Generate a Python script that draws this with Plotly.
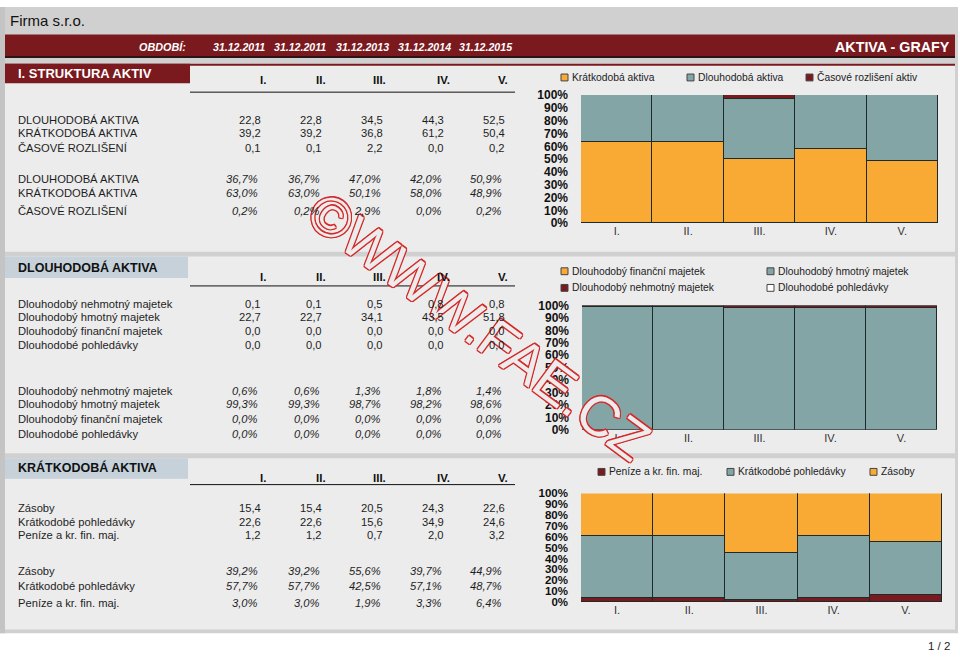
import plotly.graph_objects as go

W, H = 960, 657
FONT = "Liberation Sans, Arial, sans-serif"

# ---------------- data ----------------
periods = ["I.", "II.", "III.", "IV.", "V."]
dates = ["31.12.2011", "31.12.2011", "31.12.2013", "31.12.2014", "31.12.2015"]

s1_labels = ["DLOUHODOBÁ AKTIVA", "KRÁTKODOBÁ AKTIVA", "ČASOVÉ ROZLIŠENÍ"]
s1_dlouhodoba = [22.8, 22.8, 34.5, 44.3, 52.5]
s1_kratkodoba = [39.2, 39.2, 36.8, 61.2, 50.4]
s1_casove = [0.1, 0.1, 2.2, 0.0, 0.2]
s1_dlouhodoba_pct = [36.7, 36.7, 47.0, 42.0, 50.9]
s1_kratkodoba_pct = [63.0, 63.0, 50.1, 58.0, 48.9]
s1_casove_pct = [0.2, 0.2, 2.9, 0.0, 0.2]

s2_labels = ["Dlouhodobý nehmotný majetek", "Dlouhodobý hmotný majetek",
             "Dlouhodobý finanční majetek", "Dlouhodobé pohledávky"]
s2_nehmotny = [0.1, 0.1, 0.5, 0.8, 0.8]
s2_hmotny = [22.7, 22.7, 34.1, 43.5, 51.8]
s2_financni = [0.0, 0.0, 0.0, 0.0, 0.0]
s2_pohledavky = [0.0, 0.0, 0.0, 0.0, 0.0]
s2_nehmotny_pct = [0.6, 0.6, 1.3, 1.8, 1.4]
s2_hmotny_pct = [99.3, 99.3, 98.7, 98.2, 98.6]
s2_financni_pct = [0.0, 0.0, 0.0, 0.0, 0.0]
s2_pohledavky_pct = [0.0, 0.0, 0.0, 0.0, 0.0]

s3_labels = ["Zásoby", "Krátkodobé pohledávky", "Peníze a kr. fin. maj."]
s3_zasoby = [15.4, 15.4, 20.5, 24.3, 22.6]
s3_pohledavky = [22.6, 22.6, 15.6, 34.9, 24.6]
s3_penize = [1.2, 1.2, 0.7, 2.0, 3.2]
s3_zasoby_pct = [39.2, 39.2, 55.6, 39.7, 44.9]
s3_pohledavky_pct = [57.7, 57.7, 42.5, 57.1, 48.7]
s3_penize_pct = [3.0, 3.0, 1.9, 3.3, 6.4]

pct_ticks = list(range(0, 101, 10))

# ---------------- styles ----------------
ORANGE = "#F8AA35"
TEAL = "#84A5A6"
DRED = "#7A1A1E"
WHITE = "#FFFFFF"
EDGE = "#1E2A2A"
PANEL = "#ECECEC"
GRAY = "#D0D0D0"
TXT = "#1E1E1E"
WM = "#D42A2A"

TSIZE = 11.2   # table text
LSIZE = 10.3   # legend text


def px(x):
    return x / W


def py(y):
    return 1 - y / H


shapes = []
annotations = []

# watermark first (so that table texts are drawn over it):
# hollow red outline made from offset copies + panel-coloured fill
WM_X, WM_Y, WM_SIZE, WM_ANGLE = 479, 326, 56, 36.5
for dx, dy in [(-1, -1), (1, -1), (-1, 1), (1, 1), (-1.2, 0), (1.2, 0), (0, -1.2), (0, 1.2)]:
    annotations.append(dict(
        xref="paper", yref="paper", x=px(WM_X + dx), y=py(WM_Y + dy), text="©WWW.FAE.CZ",
        showarrow=False, textangle=WM_ANGLE, xanchor="center", yanchor="middle",
        font=dict(size=WM_SIZE, family=FONT, color=WM)))
annotations.append(dict(
    xref="paper", yref="paper", x=px(WM_X), y=py(WM_Y), text="©WWW.FAE.CZ",
    showarrow=False, textangle=WM_ANGLE, xanchor="center", yanchor="middle",
    font=dict(size=WM_SIZE, family=FONT, color=PANEL)))


def rect(x0, y0, x1, y1, color, line=None):
    shapes.append(dict(type="rect", xref="paper", yref="paper",
                       x0=px(x0), x1=px(x1), y0=py(y1), y1=py(y0),
                       fillcolor=color, line=dict(width=0) if line is None else line,
                       layer="below"))


def hline(x0, x1, y, color="#111111", width=1):
    shapes.append(dict(type="line", xref="paper", yref="paper",
                       x0=px(x0), x1=px(x1), y0=py(y), y1=py(y),
                       line=dict(color=color, width=width), layer="below"))


def text(x, y, s, size=TSIZE, color=TXT, anchor="left", bold=False, italic=False, family=FONT):
    annotations.append(dict(xref="paper", yref="paper", x=px(x), y=py(y), text=s,
                            showarrow=False, xanchor=anchor, yanchor="middle",
                            font=dict(size=size, color=color, family=family,
                                      weight="bold" if bold else "normal",
                                      style="italic" if italic else "normal")))


def num(v):
    return f"{v:.1f}".replace(".", ",")


def pct(v):
    return f"{v:.1f}%".replace(".", ",")


# ---------------- background ----------------
rect(0, 0, 958, 640, GRAY)
rect(0, 0, 5, 640, "#C4C4C4")
rect(5, 28, 955, 51, DRED)
hline(5, 955, 51, "#2A1414", 2)
rect(5, 58, 955, 250, PANEL)
hline(5, 955, 59, DRED, 2)
rect(5, 255, 955, 456, PANEL)
rect(5, 461, 955, 636, PANEL)
rect(5, 58, 190, 78, DRED)
rect(5, 255, 188, 277, "#C6D1DA")
rect(5, 461, 188, 482, "#C6D1DA")

# header texts
text(8, 14, "Firma s.r.o.", size=15, color="#111111")
text(188, 41, "OBDOBÍ:", size=10.8, color=WHITE, anchor="right", bold=True, italic=True)
date_x = [239, 300, 362, 424, 486]
for x, d in zip(date_x, dates):
    text(x, 41, d, size=10.6, color=WHITE, anchor="center", bold=True, italic=True)
text(952, 41, "AKTIVA - GRAFY", size=14.3, color=WHITE, anchor="right", bold=True)
text(16, 68, "I. STRUKTURA AKTIV", size=13, color=WHITE, bold=True)
text(16, 266, "DLOUHODOBÁ AKTIVA", size=12.5, color="#111111", bold=True)
text(16, 471, "KRÁTKODOBÁ AKTIVA", size=12.5, color="#111111", bold=True)
text(952, 653, "1 / 2", size=11.5, color=TXT, anchor="right")

head_x = [268, 328, 388, 452, 510]
num_x = [263, 324, 385, 446, 507]
pct_x = [260, 322, 383, 444, 504]


def table(head_y, line_y, labels, rows_y, values, prows_y, pvalues):
    for x, p in zip(head_x, periods):
        text(x, head_y, p, size=11.5, color="#111111", anchor="right", bold=True)
    hline(190, 515, line_y, "#111111", 1)
    for y, lab, vals in zip(rows_y, labels, values):
        text(16, y, lab)
        for x, v in zip(num_x, vals):
            text(x, y, num(v), anchor="right")
    for y, lab, vals in zip(prows_y, labels, pvalues):
        text(16, y, lab)
        for x, v in zip(pct_x, vals):
            text(x, y, pct(v), anchor="right", italic=True)


table(75, 87, s1_labels, [115, 129, 144],
      [s1_dlouhodoba, s1_kratkodoba, s1_casove],
      [176, 190, 208], [s1_dlouhodoba_pct, s1_kratkodoba_pct, s1_casove_pct])
table(276, 285, s2_labels, [303, 317, 331, 345],
      [s2_nehmotny, s2_hmotny, s2_financni, s2_pohledavky],
      [392, 406, 421, 436],
      [s2_nehmotny_pct, s2_hmotny_pct, s2_financni_pct, s2_pohledavky_pct])
table(481, 488, s3_labels, [512, 526, 540],
      [s3_zasoby, s3_pohledavky, s3_penize],
      [576, 592, 609], [s3_zasoby_pct, s3_pohledavky_pct, s3_penize_pct])


# ---------------- legends (manual) ----------------
def legend_item(x, y, color, label):
    shapes.append(dict(type="rect", xref="paper", yref="paper",
                       x0=px(x), x1=px(x + 7), y0=py(y + 3.5), y1=py(y - 3.5),
                       fillcolor=color, line=dict(color="#444444", width=1), layer="above"))
    text(x + 9, y, label, size=LSIZE, color="#222222")


legend_item(561, 72, ORANGE, "Krátkodobá aktiva")
legend_item(687, 72, TEAL, "Dlouhodobá aktiva")
legend_item(806, 72, DRED, "Časové rozlišení aktiv")

legend_item(561, 270, ORANGE, "Dlouhodobý finanční majetek")
legend_item(767, 270, TEAL, "Dlouhodobý hmotný majetek")
legend_item(561, 287, DRED, "Dlouhodobý nehmotný majetek")
legend_item(767, 287, WHITE, "Dlouhodobé pohledávky")

legend_item(598, 475, DRED, "Peníze a kr. fin. maj.")
legend_item(727, 475, TEAL, "Krátkodobé pohledávky")
legend_item(870, 475, ORANGE, "Zásoby")

# ---------------- charts ----------------
fig = go.Figure()


def bar(vals, color, ax):
    fig.add_trace(go.Bar(x=periods, y=vals, xaxis="x" + ax, yaxis="y" + ax,
                         marker=dict(color=color, line=dict(color=EDGE, width=1)),
                         showlegend=False, hoverinfo="skip"))


bar(s1_kratkodoba_pct, ORANGE, "")
bar(s1_dlouhodoba_pct, TEAL, "")
bar(s1_casove_pct, DRED, "")

bar(s2_hmotny_pct, TEAL, "2")
bar(s2_financni_pct, ORANGE, "2")
bar(s2_pohledavky_pct, WHITE, "2")
bar(s2_nehmotny_pct, DRED, "2")

bar(s3_penize_pct, DRED, "3")
bar(s3_pohledavky_pct, TEAL, "3")
bar(s3_zasoby_pct, ORANGE, "3")

domains = {
    "": ((581, 938), (90, 221), 12),
    "2": ((582, 937), (305, 432), 12),
    "3": ((581, 942), (497, 608), 11.5),
}
layout_axes = {}
for key, ((x0, x1), (y0, y1), fs) in domains.items():
    layout_axes["xaxis" + key] = dict(
        domain=[px(x0), px(x1)], anchor="y" + key, type="category",
        showgrid=False, zeroline=False, showline=False, ticks="",
        tickfont=dict(size=11, color="#333333", family=FONT), fixedrange=True)
    layout_axes["yaxis" + key] = dict(
        domain=[py(y1), py(y0)], anchor="x" + key, range=[0, 100],
        tickvals=pct_ticks, ticktext=[f"{t}%" for t in pct_ticks],
        showgrid=False, zeroline=False, showline=False, ticks="",
        ticklabelstandoff=12,
        tickfont=dict(size=fs, color="#111111", family=FONT, weight="bold"),
        fixedrange=True)

fig.update_layout(
    width=W, height=H, margin=dict(l=0, r=0, t=0, b=0),
    paper_bgcolor="#FFFFFF", plot_bgcolor="rgba(0,0,0,0)",
    barmode="stack", bargap=0, showlegend=False,
    shapes=shapes, annotations=annotations,
    font=dict(family=FONT),
    **layout_axes,
)

fig.write_html("out.html")
